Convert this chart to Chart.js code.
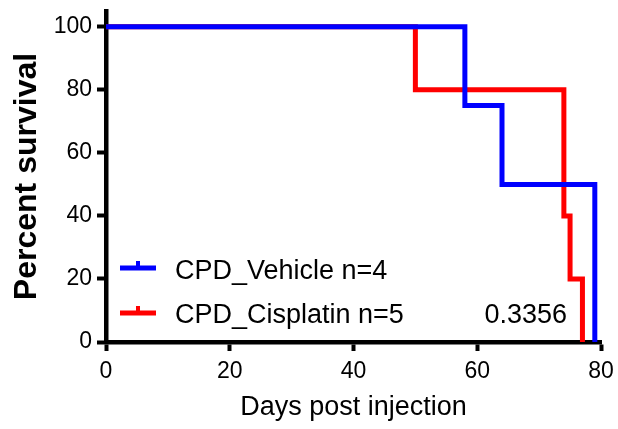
<!DOCTYPE html>
<html>
<head>
<meta charset="utf-8">
<title>Percent survival</title>
<script src="https://cdn.jsdelivr.net/npm/chart.js@4.4.1/dist/chart.umd.min.js"></script>
<style>
    html, body { margin: 0; padding: 0; background: #fff; }
    canvas { display: block; }
</style>
</head>
<body>
<canvas id="survivalChart" width="618" height="429"></canvas>
<script>
// Kaplan-Meier steps (day, percent surviving after that day)
const vehicleDays = [0, 58, 64, 79];
const vehicleSurvival = [100, 75, 50, 0];
const cisplatinDays = [0, 50, 74, 75, 77];
const cisplatinSurvival = [100, 80, 40, 20, 0];

const seriesLabels = ['CPD_Vehicle n=4', 'CPD_Cisplatin n=5'];
const pValueText = '0.3356';

const xTicks = [0, 20, 40, 60, 80];
const yTicks = [0, 20, 40, 60, 80, 100];

const fontFamily = '"Liberation Sans", Arial, Helvetica, sans-serif';

function toPoints(days, values) {
    return days.map((d, i) => ({ x: d, y: values[i] }));
}

// Legend with the little tick marker and the p value, drawn inside the plot
const innerLegend = {
    id: 'innerLegend',
    afterDraw(chart) {
        const { ctx, chartArea } = chart;
        const rows = [
            { y: chartArea.top + 257, base: chartArea.top + 268 },
            { y: chartArea.top + 302, base: chartArea.top + 312 }
        ];
        ctx.save();
        chart.data.datasets.forEach((ds, i) => {
            const row = rows[i];
            const x0 = chartArea.left + 14;
            ctx.strokeStyle = ds.borderColor;
            ctx.lineWidth = 5;
            ctx.lineCap = 'butt';
            ctx.beginPath();
            ctx.moveTo(x0, row.y);
            ctx.lineTo(x0 + 36, row.y);
            ctx.stroke();
            ctx.lineWidth = 4;
            ctx.beginPath();
            ctx.moveTo(x0 + 18, row.y);
            ctx.lineTo(x0 + 18, row.y - 7);
            ctx.stroke();

            ctx.fillStyle = '#000';
            ctx.font = '27px ' + fontFamily;
            ctx.textAlign = 'left';
            ctx.textBaseline = 'alphabetic';
            ctx.fillText(ds.label, x0 + 55, row.base);
        });
        ctx.textAlign = 'right';
        ctx.fillText(pValueText, chartArea.left + 461, rows[1].base);
        ctx.restore();
    }
};

// drop the extra room Chart.js keeps for the end tick labels
function noEdgePadding(axis) {
    axis.paddingTop = 0;
    axis.paddingBottom = 0;
    axis.paddingLeft = 0;
    axis.paddingRight = 0;
}

const ctx = document.getElementById('survivalChart').getContext('2d');
const survivalChart = new Chart(ctx, {
    type: 'line',
    data: {
        datasets: [
            {
                label: seriesLabels[0],
                data: toPoints(vehicleDays, vehicleSurvival),
                borderColor: '#0000ff',
                borderWidth: 5,
                stepped: 'before',
                pointRadius: 0,
                fill: false,
                clip: false
            },
            {
                label: seriesLabels[1],
                data: toPoints(cisplatinDays, cisplatinSurvival),
                borderColor: '#ff0000',
                borderWidth: 5,
                stepped: 'before',
                pointRadius: 0,
                fill: false,
                clip: false
            }
        ]
    },
    options: {
        responsive: false,
        animation: false,
        devicePixelRatio: 1,
        layout: {
            padding: { left: 0, right: 17, top: 11, bottom: 0 }
        },
        plugins: {
            legend: { display: false },
            tooltip: { enabled: false }
        },
        scales: {
            x: {
                type: 'linear',
                min: 0,
                max: 80,
                afterBuildTicks: axis => { axis.ticks = xTicks.map(v => ({ value: v })); },
                afterFit: axis => { axis.height = 87; noEdgePadding(axis); },
                border: { display: true, color: '#000', width: 4.5 },
                grid: {
                    drawOnChartArea: false,
                    color: '#000',
                    tickColor: '#000',
                    tickLength: 9,
                    tickWidth: 4
                },
                ticks: {
                    color: '#000',
                    padding: 7,
                    maxRotation: 0,
                    font: { family: fontFamily, size: 23 }
                },
                title: {
                    display: true,
                    text: 'Days post injection',
                    color: '#000',
                    padding: { top: 0, bottom: 5 },
                    font: { family: fontFamily, size: 27 }
                }
            },
            y: {
                type: 'linear',
                min: 0,
                max: 105,
                afterBuildTicks: axis => { axis.ticks = yTicks.map(v => ({ value: v })); },
                afterFit: axis => { axis.width = 106; noEdgePadding(axis); },
                border: { display: true, color: '#000', width: 4.5 },
                grid: {
                    drawOnChartArea: false,
                    color: '#000',
                    tickColor: '#000',
                    tickLength: 9,
                    tickWidth: 4
                },
                ticks: {
                    color: '#000',
                    padding: 5,
                    font: { family: fontFamily, size: 23 }
                },
                title: {
                    display: true,
                    text: 'Percent survival',
                    color: '#000',
                    padding: { top: 8, bottom: 0 },
                    font: { family: fontFamily, size: 32, weight: 'bold' }
                }
            }
        }
    },
    plugins: [innerLegend]
});
</script>
</body>
</html>
